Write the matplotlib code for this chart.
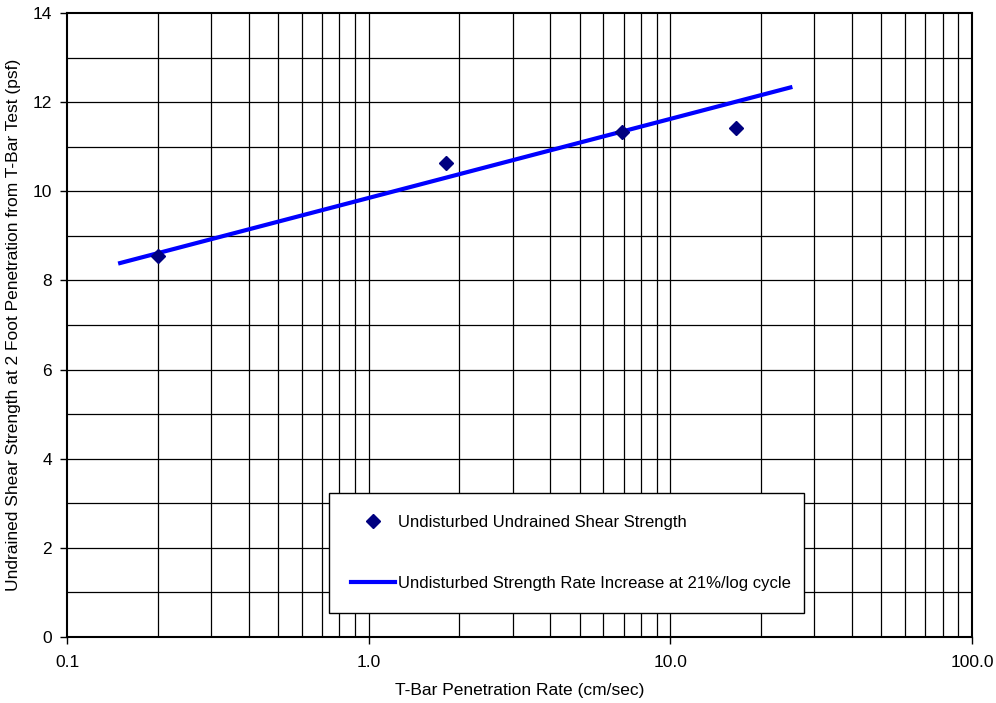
import matplotlib
matplotlib.use("Agg")
import matplotlib.pyplot as plt
from matplotlib.ticker import FixedLocator, FixedFormatter, NullFormatter

plt.rcParams['font.family'] = ['Liberation Sans', 'DejaVu Sans']
plt.rcParams['font.size'] = 12.5

# measured points
rate = [0.2, 1.8, 6.9, 16.5]
strength = [8.55, 10.63, 11.34, 11.43]

# rate increase line (21%/log cycle), end points
line_rate = [0.15, 25.0]
line_strength = [8.39, 12.33]

x_ticks = [0.1, 1.0, 10.0, 100.0]
x_labels = ['0.1', '1.0', '10.0', '100.0']
y_ticks = [0, 2, 4, 6, 8, 10, 12, 14]

fig = plt.figure(figsize=(9.96, 7.03), dpi=100)
ax = fig.add_axes([0.0673, 0.0939, 0.9086, 0.8876])

ax.set_xscale('log')
ax.set_xlim(0.1, 100)
ax.set_ylim(0, 14)

# grid: every minor log step and every unit in y
minor_x = [m * d for d in (0.1, 1, 10) for m in range(2, 10)]
for xv in minor_x + x_ticks[1:-1]:
    ax.axvline(xv, color='black', lw=0.9, zorder=1)
for yv in range(1, 14):
    ax.axhline(yv, color='black', lw=0.9, zorder=1)

ax.xaxis.set_major_locator(FixedLocator(x_ticks))
ax.xaxis.set_major_formatter(FixedFormatter(x_labels))
ax.xaxis.set_minor_locator(FixedLocator([]))
ax.xaxis.set_minor_formatter(NullFormatter())
ax.yaxis.set_major_locator(FixedLocator(y_ticks))
ax.tick_params(direction='out', length=5, width=1, top=False, right=False)
ax.tick_params(axis='x', pad=8)
ax.tick_params(axis='y', pad=6)

for s in ax.spines.values():
    s.set_linewidth(1.5)
    s.set_color('black')

ax.plot(rate, strength, linestyle='none', marker='D', markersize=7,
        color='#000080', label='Undisturbed Undrained Shear Strength', zorder=4)
ax.plot(line_rate, line_strength, color='#0000FF', lw=3,
        label='Undisturbed Strength Rate Increase at 21%/log cycle', zorder=3)

leg = ax.legend(loc='lower left', bbox_to_anchor=(0.2895, 0.0385, 0.525, 0.199),
                mode='expand', borderaxespad=0, fancybox=False, framealpha=1,
                edgecolor='black', labelspacing=2.76, borderpad=1.33,
                handlelength=2.6, handletextpad=0.2, fontsize=12)
leg.get_frame().set_linewidth(1.0)
leg.set_zorder(5)

ax.set_xlabel('T-Bar Penetration Rate (cm/sec)', labelpad=9)
ax.set_ylabel('Undrained Shear Strength at 2 Foot Penetration from T-Bar Test (psf)', labelpad=8)

fig.savefig('out.png', dpi=100)
